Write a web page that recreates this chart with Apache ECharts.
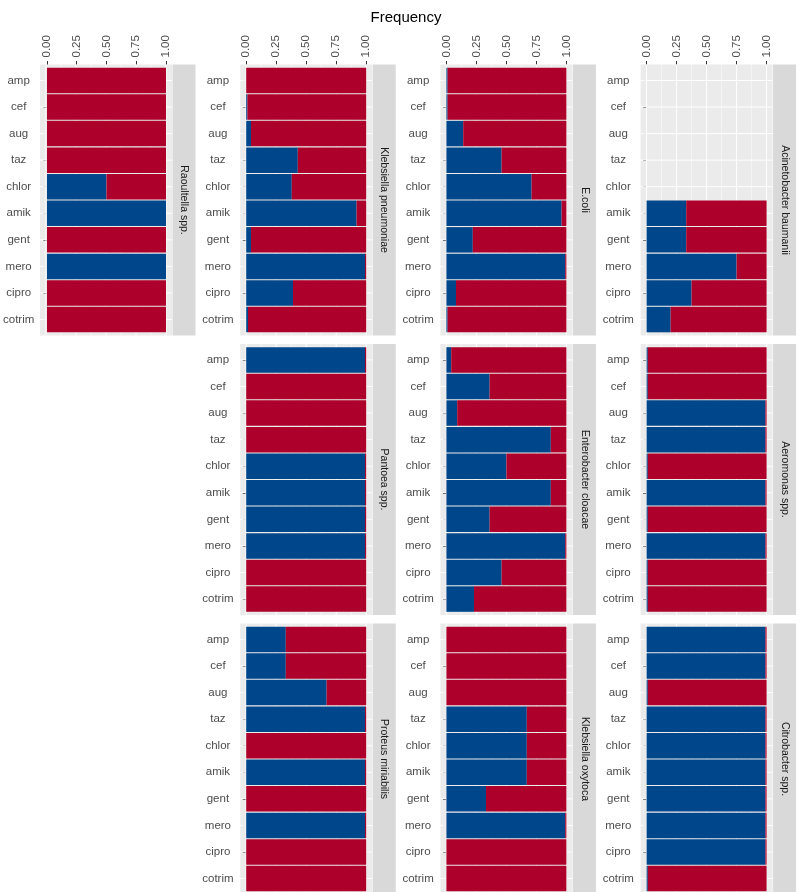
<!DOCTYPE html>
<html>
<head>
<meta charset="utf-8">
<script src="https://cdn.jsdelivr.net/npm/echarts@6/dist/echarts.min.js"></script>
<style>
  html, body { margin: 0; padding: 0; background: #ffffff; }
  #chart { width: 801px; height: 892px; }
</style>
</head>
<body>
<div id="chart"></div>
<script>
// Antibiotics on the category axis
const drugs = ['amp', 'cef', 'aug', 'taz', 'chlor', 'amik', 'gent', 'mero', 'cipro', 'cotrim'];

// Frequency ticks on the value axis
const freqTicks = [0, 0.25, 0.5, 0.75, 1];

// Facet titles
const species = [
  'Raoultella spp.', 'Klebsiella pneumoniae', 'E.coli', 'Acinetobacter baumanii',
  'Pantoea spp.', 'Enterobacter cloacae', 'Aeromonas spp.',
  'Proteus miriabilis', 'Klebsiella oxytoca', 'Citrobacter spp.'
];

// Susceptible (blue) and resistant (red) frequencies per species
const raoultellaS = [0, 0, 0, 0, 0.5, 1, 0, 1, 0, 0];
const raoultellaR = [1, 1, 1, 1, 0.5, 0, 1, 0, 1, 1];

const kpneumoniaeS = [0, 0.01, 0.04, 0.43, 0.38, 0.92, 0.04, 0.99, 0.39, 0.015];
const kpneumoniaeR = [1, 0.99, 0.96, 0.57, 0.62, 0.08, 0.96, 0.01, 0.61, 0.985];

const ecoliS = [0.01, 0.01, 0.14, 0.46, 0.71, 0.96, 0.22, 0.99, 0.08, 0.01];
const ecoliR = [0.99, 0.99, 0.86, 0.54, 0.29, 0.04, 0.78, 0.01, 0.92, 0.99];

const acinetobacterS = [null, null, null, null, null, 0.33, 0.33, 0.75, 0.375, 0.2];
const acinetobacterR = [null, null, null, null, null, 0.67, 0.67, 0.25, 0.625, 0.8];

const pantoeaS = [0.99, 0, 0, 0, 0.99, 0.99, 0.99, 0.99, 0, 0];
const pantoeaR = [0.01, 1, 1, 1, 0.01, 0.01, 0.01, 0.01, 1, 1];

const enterobacterS = [0.04, 0.36, 0.09, 0.87, 0.5, 0.87, 0.36, 0.99, 0.46, 0.23];
const enterobacterR = [0.96, 0.64, 0.91, 0.13, 0.5, 0.13, 0.64, 0.01, 0.54, 0.77];

const aeromonasS = [0.01, 0.01, 0.99, 0.99, 0.01, 0.99, 0.01, 0.99, 0.01, 0.01];
const aeromonasR = [0.99, 0.99, 0.01, 0.01, 0.99, 0.01, 0.99, 0.01, 0.99, 0.99];

const proteusS = [0.33, 0.33, 0.67, 0.99, 0, 0.99, 0, 0.99, 0, 0];
const proteusR = [0.67, 0.67, 0.33, 0.01, 1, 0.01, 1, 0.01, 1, 1];

const koxytocaS = [0, 0, 0, 0.67, 0.67, 0.67, 0.33, 0.99, 0, 0];
const koxytocaR = [1, 1, 1, 0.33, 0.33, 0.33, 0.67, 0.01, 1, 1];

const citrobacterS = [0.99, 0.99, 0.01, 0.99, 0.99, 0.99, 0.99, 0.99, 0.99, 0.01];
const citrobacterR = [0.01, 0.01, 0.99, 0.01, 0.01, 0.01, 0.01, 0.01, 0.01, 0.99];

const susceptible = [raoultellaS, kpneumoniaeS, ecoliS, acinetobacterS, pantoeaS,
  enterobacterS, aeromonasS, proteusS, koxytocaS, citrobacterS];
const resistant = [raoultellaR, kpneumoniaeR, ecoliR, acinetobacterR, pantoeaR,
  enterobacterR, aeromonasR, proteusR, koxytocaR, citrobacterR];

// ---- facet layout ----
const BLUE = '#00468B';
const RED = '#AD002A';
const FONT = '"Liberation Sans", Arial, Helvetica, sans-serif';
const COL_X0 = [46, 246.2, 446.4, 646.6];   // pixel of frequency 0 in each column
const UNIT = 120;                            // pixels per frequency unit
const ROW_TOP = [64.5, 344, 623.5];
const PANEL_H = 271;
const BAND = PANEL_H / (drugs.length + 0.2);
const PAD_X = 6;
const STRIP_W = 23;
const slots = [[0, 0], [0, 1], [0, 2], [0, 3], [1, 1], [1, 2], [1, 3], [2, 1], [2, 2], [2, 3]];

const grids = [], xAxes = [], yAxes = [], series = [], graphics = [];

species.forEach((name, i) => {
  const [row, col] = slots[i];
  const x0 = COL_X0[col];
  const top = ROW_TOP[row];
  const left = x0 - PAD_X;
  const right = x0 + UNIT + PAD_X;

  grids.push({ left: x0, top: top + 0.6 * BAND, width: UNIT, height: 9 * BAND });

  xAxes.push({
    gridIndex: i, type: 'value', min: 0, max: 1, interval: 0.25,
    position: 'top', offset: 0.6 * BAND,
    axisLine: { show: false },
    axisTick: { show: row === 0, length: 3.5, lineStyle: { color: '#333333', width: 1 } },
    axisLabel: {
      show: row === 0, rotate: -90, margin: 7, color: '#4d4d4d', fontSize: 11.5,
      fontFamily: FONT, formatter: v => v.toFixed(2)
    },
    splitLine: { show: false }
  });

  yAxes.push({
    gridIndex: i, type: 'category', data: drugs, inverse: true, boundaryGap: false,
    offset: PAD_X,
    axisLine: { show: false },
    axisTick: { show: true, length: 3.5, lineStyle: { color: '#333333', width: 1 } },
    axisLabel: {
      margin: 22.3, align: 'center', color: '#4d4d4d', fontSize: 11.5,
      fontFamily: FONT, interval: 0
    },
    splitLine: { show: false }
  });

  series.push({
    type: 'bar', name: 'S', xAxisIndex: i, yAxisIndex: i, stack: 'f' + i,
    data: susceptible[i], barWidth: '96%', clip: false, silent: true, z: 5,
    itemStyle: { color: BLUE }
  });
  series.push({
    type: 'bar', name: 'R', xAxisIndex: i, yAxisIndex: i, stack: 'f' + i,
    data: resistant[i], barWidth: '96%', clip: false, silent: true, z: 5,
    itemStyle: { color: RED }
  });

  // panel background
  graphics.push({
    type: 'rect', z: 0, silent: true,
    shape: { x: left, y: top, width: right - left, height: PANEL_H },
    style: { fill: '#EBEBEB' }
  });
  // minor vertical grid lines
  for (let k = 0; k < freqTicks.length - 1; k++) {
    const v = (freqTicks[k] + freqTicks[k + 1]) / 2;
    const px = x0 + v * UNIT;
    graphics.push({
      type: 'line', z: 1, silent: true,
      shape: { x1: px, y1: top, x2: px, y2: top + PANEL_H },
      style: { stroke: '#ffffff', lineWidth: 0.5 }
    });
  }
  // major vertical grid lines
  freqTicks.forEach(v => {
    const px = x0 + v * UNIT;
    graphics.push({
      type: 'line', z: 1, silent: true,
      shape: { x1: px, y1: top, x2: px, y2: top + PANEL_H },
      style: { stroke: '#ffffff', lineWidth: 1 }
    });
  });
  // horizontal grid lines at each category
  drugs.forEach((d, k) => {
    const py = top + (0.6 + k) * BAND;
    graphics.push({
      type: 'line', z: 1, silent: true,
      shape: { x1: left, y1: py, x2: right, y2: py },
      style: { stroke: '#ffffff', lineWidth: 1 }
    });
  });
  // facet strip
  graphics.push({
    type: 'rect', z: 1, silent: true,
    shape: { x: right + 0.5, y: top, width: STRIP_W, height: PANEL_H },
    style: { fill: '#D9D9D9' }
  });
  graphics.push({
    type: 'text', z: 2, silent: true,
    x: right + 0.5 + STRIP_W / 2, y: top + PANEL_H / 2, rotation: -Math.PI / 2,
    style: {
      text: name, fill: '#1a1a1a', fontSize: 10.5, fontFamily: FONT,
      align: 'center', verticalAlign: 'middle'
    }
  });
});

// axis title
graphics.push({
  type: 'text', z: 2, silent: true, x: 406, y: 18,
  style: {
    text: 'Frequency', fill: '#000000', fontSize: 15, fontFamily: FONT,
    align: 'center', verticalAlign: 'middle'
  }
});

const chart = echarts.init(document.getElementById('chart'), null, { renderer: 'canvas' });
chart.setOption({
  animation: false,
  backgroundColor: '#ffffff',
  grid: grids,
  xAxis: xAxes,
  yAxis: yAxes,
  series: series,
  graphic: { elements: graphics }
});
</script>
</body>
</html>
